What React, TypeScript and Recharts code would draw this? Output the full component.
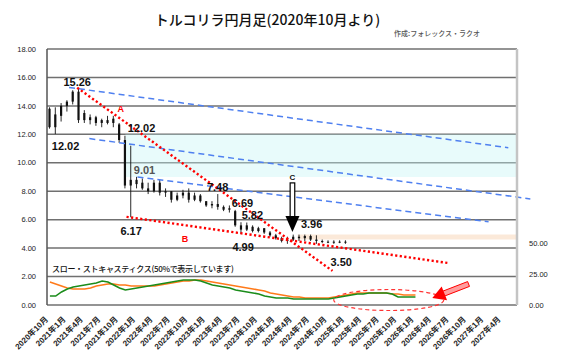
import React from 'react';
import {
  ComposedChart, Bar, Line, XAxis, YAxis, CartesianGrid,
  ReferenceLine, ReferenceArea, ReferenceDot,
} from 'recharts';

// months on the category axis: 2020年10月 .. 2027年6月
const months: string[] = [];
for (let k = 0; k < 81; k++) {
  const t = 2020 * 12 + 9 + k;
  months.push(`${Math.floor(t / 12)}年${(t % 12) + 1}月`);
}

// monthly candles (TRY/JPY)
const opens = [
  13.8, 12.5, 13.3, 14.0, 14.3, 15.0, 13.5, 13.0, 13.2, 12.8, 13.0, 12.8, 12.7, 11.6, 8.4,
  8.8, 8.6, 8.2, 8.0, 8.6, 7.9, 8.0, 7.4, 7.7, 7.9, 7.4, 7.7, 7.3, 7.0, 7.1,
  6.9, 6.7, 6.6, 5.6, 5.3, 5.5, 5.2, 5.4, 5.1, 4.9, 4.7, 4.5, 4.6, 4.8, 4.7,
  4.85, 4.6, 4.5, 4.45, 4.4, 4.45, 4.4,
];
const highs = [
  13.9, 13.9, 14.2, 14.4, 15.1, 15.26, 13.7, 13.4, 13.3, 13.1, 13.3, 13.3, 12.8, 11.9, 11.2,
  9.01, 8.9, 8.6, 8.8, 8.8, 8.2, 8.0, 7.9, 8.1, 8.2, 7.9, 7.8, 7.3, 7.3, 7.8,
  7.0, 7.0, 6.69, 5.82, 5.8, 5.6, 5.5, 5.4, 5.2, 5.0, 4.8, 4.8, 4.95, 4.95, 4.95,
  4.95, 4.9, 4.6, 4.55, 4.55, 4.55, 4.55,
];
const lows = [
  12.4, 12.02, 12.9, 13.6, 14.1, 12.8, 12.8, 12.7, 12.6, 12.5, 12.7, 12.5, 11.4, 8.2, 6.17,
  8.2, 8.1, 7.8, 7.9, 7.7, 7.6, 7.2, 7.3, 7.5, 7.2, 7.3, 7.2, 6.9, 6.8, 6.7,
  6.6, 6.5, 5.5, 4.99, 5.2, 5.1, 5.1, 5.0, 4.8, 4.6, 4.4, 4.3, 4.5, 4.5, 4.5,
  4.5, 4.3, 4.35, 4.35, 4.3, 4.35, 4.3,
];
const closes = [
  12.5, 13.4, 14.0, 14.3, 15.0, 13.0, 13.0, 13.2, 12.8, 13.0, 12.8, 13.1, 11.6, 8.4, 8.8,
  8.5, 8.2, 8.0, 8.6, 7.9, 8.0, 7.4, 7.7, 7.9, 7.4, 7.7, 7.3, 7.0, 7.1, 6.9,
  6.7, 6.8, 5.6, 5.3, 5.6, 5.2, 5.4, 5.1, 4.9, 4.7, 4.5, 4.6, 4.8, 4.7, 4.85,
  4.6, 4.5, 4.45, 4.4, 4.45, 4.4, 4.45,
];

// slow stochastics, shown at 50% on the right axis
const slowK = [
  7.2, 7.2, 10.5, 12.9, 14.5, 15.3, 16.1, 16.9, 17.7, 19.3, 18.5, 16.1, 13.7, 12.1, 12.9, 13.7,
  14.5, 15.3, 16.1, 16.9, 17.7, 18.5, 19.3, 20.1, 20.1, 20.1, 19.3, 17.7, 16.1, 15.3, 14.5, 13.7,
  12.1, 11.3, 10.5, 9.7, 8.8, 7.2, 6.4, 5.6, 5.6, 5.6, 4.8, 4.8, 4.8, 4.8, 4.8, 4.8,
  4.8, 5.6, 6.4, 7.2, 8.0, 8.8, 8.8, 9.7, 9.7, 9.7, 9.7, 8.8, 6.4, 6.4, 6.4, 6.4,
];
const slowD = [
  18.5, 16.9, 15.3, 13.7, 12.9, 12.9, 12.9, 13.7, 15.3, 16.1, 16.9, 16.9, 16.1, 16.1, 15.3, 15.3,
  15.3, 15.3, 15.3, 16.1, 16.9, 17.7, 18.5, 19.3, 19.3, 20.1, 20.1, 19.3, 18.5, 17.7, 16.9, 16.1,
  15.3, 14.5, 13.7, 12.9, 12.1, 11.3, 9.7, 8.8, 8.0, 7.2, 6.4, 6.4, 5.6, 5.6, 5.6, 5.6,
  5.6, 6.4, 7.2, 8.0, 8.8, 9.7, 9.7, 9.7, 9.7, 9.7, 9.7, 8.8, 8.8, 8.0, 8.0, 8.0,
];

const leftTicks = [0, 2, 4, 6, 8, 10, 12, 14, 16, 18];
const rightTicks = [0, 25, 50];

// trend lines, in month-index units on a hidden numeric axis
const blueLines = [
  [{ x: 3.8, y: 15.3 }, { x: 79.5, y: 11.06 }],
  [{ x: 7.3, y: 11.7 }, { x: 83.3, y: 7.46 }],
  [{ x: 15.6, y: 9.0 }, { x: 76.1, y: 5.85 }],
];
const redLines = [
  [{ x: 5.2, y: 15.28 }, { x: 49.2, y: 2.4 }],
  [{ x: 13.7, y: 6.2 }, { x: 69.0, y: 2.96 }],
];

const notes = [
  { text: '15.26', x: 5.2, y: 15.7 },
  { text: '12.02', x: 3.2, y: 11.2 },
  { text: '12.02', x: 16.3, y: 12.46 },
  { text: '9.01', x: 16.8, y: 9.5, color: '#555' },
  { text: '7.48', x: 29.4, y: 8.3 },
  { text: '6.69', x: 33.7, y: 7.18 },
  { text: '5.82', x: 35.4, y: 6.34 },
  { text: '6.17', x: 14.5, y: 5.2 },
  { text: '4.99', x: 33.8, y: 4.08 },
  { text: '3.96', x: 45.6, y: 5.7 },
  { text: '3.50', x: 50.7, y: 3.03 },
  { text: 'A', x: 12.7, y: 13.8, color: '#f00', size: 9 },
  { text: 'B', x: 23.8, y: 4.65, color: '#f00', size: 9 },
  { text: 'C', x: 42.3, y: 9.0, size: 8 },
];

const rows = months.map((m, i) => ({
  m, i,
  o: opens[i], h: highs[i], l: lows[i], c: closes[i],
  g: slowK[i], s: slowD[i],
}));

const Candle = (props: any) => {
  const { x, y, width, height, payload } = props;
  if (payload.h == null || !height) return null;
  const k = height / (payload.h - payload.l);
  const cx = x + width / 2;
  const top = y + (payload.h - Math.max(payload.o, payload.c)) * k;
  const bot = y + (payload.h - Math.min(payload.o, payload.c)) * k;
  return (
    <g>
      <line x1={cx} x2={cx} y1={y} y2={y + height} stroke="#111" strokeWidth={0.9} />
      <rect x={cx - 1.1} y={top} width={2.2} height={Math.max(bot - top, 1)} fill="#111" />
    </g>
  );
};

const MonthTick = ({ x, y, payload }: any) => (
  <text
    x={x - 3}
    y={y + 5}
    transform={`rotate(-45 ${x - 3} ${y + 5})`}
    textAnchor="end"
    dominantBaseline="central"
    fontSize={8}
    fontWeight={600}
    fill="#222"
    fontFamily="'Liberation Sans', 'Noto Sans CJK JP', sans-serif"
  >
    {payload.value}
  </text>
);

const BlackArrow = ({ cx, cy }: any) => (
  <g>
    <rect x={cx - 2.3} y={cy - 49} width={4.6} height={34} fill="#fff" stroke="#000" strokeWidth={1.2} />
    <polygon points={`${cx - 7},${cy - 16} ${cx + 7},${cy - 16} ${cx},${cy}`} fill="#000" />
  </g>
);

const RedArrow = ({ cx, cy }: any) => {
  const ux = 0.93, uy = -0.36; // toward the tail
  const px = -uy, py = ux;
  const pt = (a: number, b: number) => `${cx + ux * a + px * b},${cy + uy * a + py * b}`;
  return (
    <g>
      <polygon points={[pt(12, -2.6), pt(39, -2.6), pt(39, 2.6), pt(12, 2.6)].join(' ')} fill="#ff9d9d" stroke="#f00" strokeWidth={1} />
      <polygon points={[pt(0, 0), pt(13, -7.5), pt(13, 7.5)].join(' ')} fill="#f00" />
    </g>
  );
};

const DashedRing = ({ cx, cy }: any) => (
  <ellipse cx={cx} cy={cy} rx={55} ry={10.5} fill="none" stroke="#f33" strokeWidth={1.2} strokeDasharray="4 3" />
);

export default function App() {
  return (
    <div style={{ position: 'absolute', left: 0, top: 0, width: 567, height: 355, background: '#fff', fontFamily: "'Liberation Sans', 'Noto Sans CJK JP', sans-serif" }}>
      <div style={{ position: 'absolute', left: 4, top: 9, width: 527, textAlign: 'center', fontSize: 14, fontWeight: 500, color: '#111', fontFamily: "'Noto Sans CJK JP', sans-serif" }}>
        トルコリラ円月足(2020年10月より)
      </div>
      <div style={{ position: 'absolute', left: 380, top: 28, width: 100, textAlign: 'right', fontSize: 7, fontWeight: 500, color: '#555', fontFamily: "'Noto Sans CJK JP', sans-serif" }}>
        作成:フォレックス・ラクオ
      </div>
      <div style={{ position: 'absolute', left: 52, top: 263, fontSize: 8, letterSpacing: -0.3, fontWeight: 500, color: '#111', fontFamily: "'Noto Sans CJK JP', sans-serif", whiteSpace: 'nowrap' }}>
        スロー・ストキャスティクス(50%で表示しています)
      </div>
      <ComposedChart width={567} height={355} data={rows} margin={{ top: 49, right: 0, bottom: 0, left: 0 }}>
        <CartesianGrid vertical={false} stroke="#707070" strokeWidth={1.5} />
        <XAxis dataKey="m" interval={2} tickLine={false} axisLine={false} height={50} tick={<MonthTick />} />
        <XAxis xAxisId="n" dataKey="i" type="number" domain={[0, 81]} allowDataOverflow hide />
        <YAxis
          domain={[0, 18]}
          ticks={leftTicks}
          width={47}
          tickLine={false}
          axisLine={{ stroke: '#555', strokeWidth: 1.5 }}
          tickFormatter={(v: number) => v.toFixed(2)}
          tick={{ fontSize: 7.5, fill: '#222' }}
          tickMargin={5}
        />
        <YAxis
          yAxisId="r"
          orientation="right"
          domain={[0, 206]}
          ticks={rightTicks}
          width={50}
          tickLine={false}
          axisLine={{ stroke: '#c4c4c4', strokeWidth: 2.5 }}
          tickFormatter={(v: number) => v.toFixed(2)}
          tick={{ fontSize: 7.5, fill: '#222' }}
          tickMargin={6}
        />
        <ReferenceArea xAxisId="n" x1={13.5} x2={81} y1={9} y2={12} fill="#c6f6f6" fillOpacity={0.4} stroke="none" />
        <ReferenceArea xAxisId="n" x1={43.2} x2={81} y1={4.6} y2={4.95} fill="#f5c9a0" fillOpacity={0.4} stroke="none" />
        {blueLines.map((seg, k) => (
          <ReferenceLine key={`b${k}`} xAxisId="n" segment={seg} stroke="#4f80f0" strokeWidth={1.5} strokeDasharray="6 4" ifOverflow="visible" />
        ))}
        <Bar dataKey={(d: any) => (d.h == null ? null : [d.l, d.h])} shape={Candle} barSize={3} isAnimationActive={false} />
        {redLines.map((seg, k) => (
          <ReferenceLine key={`r${k}`} xAxisId="n" segment={seg} stroke="#f00" strokeWidth={2.4} strokeDasharray="2.2 2.4" ifOverflow="visible" />
        ))}
        <Line yAxisId="r" dataKey="s" stroke="#ff7a1a" strokeWidth={1.6} dot={false} isAnimationActive={false} />
        <Line yAxisId="r" dataKey="g" stroke="#1b8c1b" strokeWidth={1.6} dot={false} isAnimationActive={false} />
        <ReferenceDot xAxisId="n" x={58.9} y={0.35} r={0} ifOverflow="visible" shape={<DashedRing />} />
        <ReferenceDot xAxisId="n" x={66.4} y={0.49} r={0} ifOverflow="visible" shape={<RedArrow />} />
        <ReferenceDot xAxisId="n" x={42.3} y={5.14} r={0} ifOverflow="visible" shape={<BlackArrow />} />
        {notes.map((n, k) => (
          <ReferenceDot
            key={`n${k}`}
            xAxisId="n"
            x={n.x}
            y={n.y}
            r={0}
            ifOverflow="visible"
            shape={(p: any) => (
              <text x={p.cx} y={p.cy} textAnchor="middle" dominantBaseline="central" fontSize={n.size || 11} fontWeight="bold" fill={n.color || '#111'} fontFamily="'Liberation Sans', Arial, sans-serif">
                {n.text}
              </text>
            )}
          />
        ))}
      </ComposedChart>
    </div>
  );
}
